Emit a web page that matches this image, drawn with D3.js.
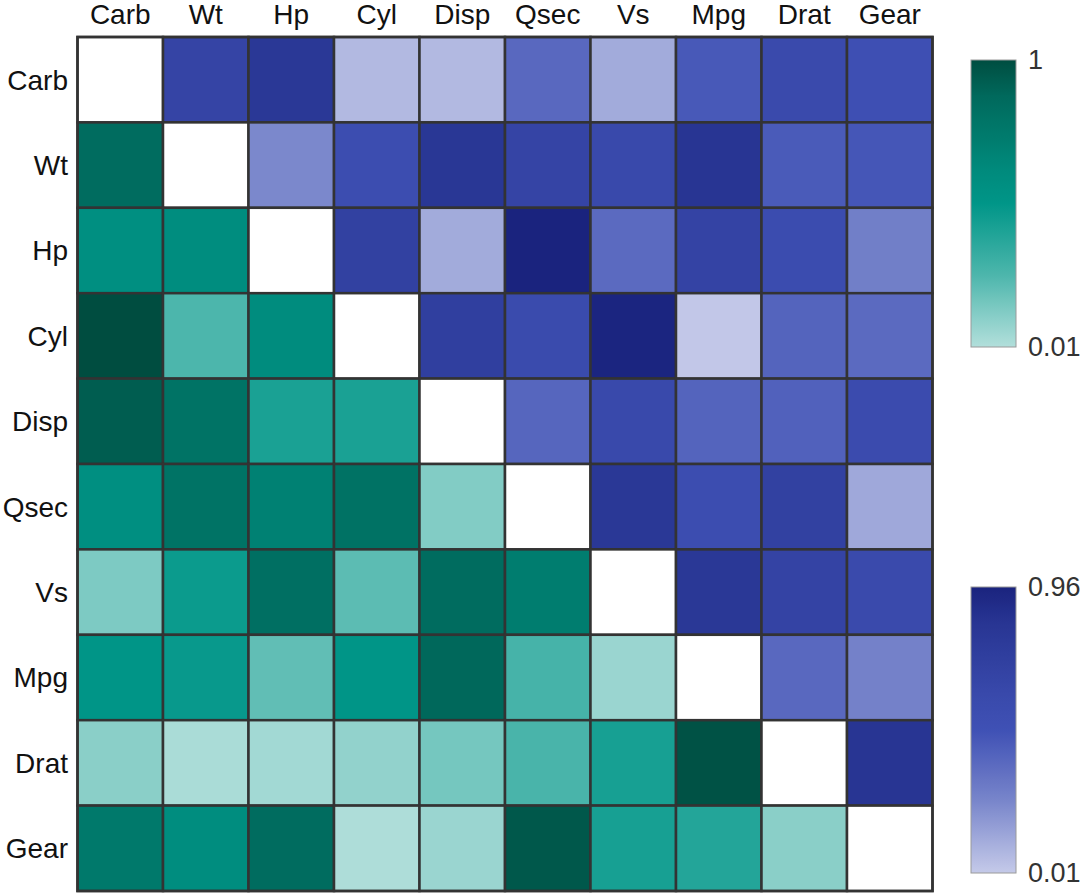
<!DOCTYPE html>
<html>
<head>
<meta charset="utf-8">
<script src="https://cdn.jsdelivr.net/npm/d3@7"></script>
<style>
  html, body { margin: 0; padding: 0; background: #fff; }
  svg { display: block; font-family: "Liberation Sans", Arial, Helvetica, sans-serif; }
</style>
</head>
<body>
<svg id="chart" width="1080" height="894"></svg>
<script>
// ---------------- DATA ----------------
const variables = ["Carb", "Wt", "Hp", "Cyl", "Disp", "Qsec", "Vs", "Mpg", "Drat", "Gear"];

// Upper triangle (blue scale), row i, columns j>i
const upperValues = [
  [0.66, 0.81, 0.07, 0.07, 0.38, 0.12, 0.45, 0.59, 0.51],
  [0.24, 0.54, 0.82, 0.66, 0.60, 0.84, 0.44, 0.46],
  [0.70, 0.12, 0.96, 0.37, 0.67, 0.56, 0.28],
  [0.72, 0.58, 0.95, 0.02, 0.40, 0.37],
  [0.39, 0.60, 0.40, 0.41, 0.57],
  [0.81, 0.54, 0.70, 0.13],
  [0.81, 0.67, 0.59],
  [0.38, 0.27],
  [0.84]
];

// Lower triangle (green scale), row i, columns j<i
const lowerValues = [
  [],
  [0.85],
  [0.57, 0.59],
  [1.00, 0.26, 0.60],
  [0.93, 0.80, 0.42, 0.42],
  [0.57, 0.80, 0.69, 0.81, 0.13],
  [0.14, 0.47, 0.83, 0.22, 0.85, 0.72],
  [0.51, 0.48, 0.21, 0.51, 0.88, 0.28, 0.07],
  [0.11, 0.03, 0.05, 0.09, 0.16, 0.27, 0.43, 0.98],
  [0.75, 0.59, 0.85, 0.02, 0.07, 0.95, 0.43, 0.39, 0.11]
];

const greenRange = [0.01, 1];
const blueRange = [0.01, 0.96];
const greenColors = ["#B2DFDB", "#80CBC4", "#4DB6AC", "#26A69A", "#009688", "#00897B", "#00796B", "#00695C", "#004D40"];
const blueColors  = ["#C5CAE9", "#9FA8DA", "#7986CB", "#5C6BC0", "#3F51B5", "#3949AB", "#303F9F", "#283593", "#1A237E"];
const greenTickLabels = ["1", "0.01"];
const blueTickLabels = ["0.96", "0.01"];

// ---------------- CHART ----------------
const svg = d3.select("#chart");

function stopsFor(range, n) {
  return d3.range(n).map(i => range[0] + (range[1] - range[0]) * i / (n - 1));
}
const greenScale = d3.scaleLinear().domain(stopsFor(greenRange, greenColors.length)).range(greenColors).clamp(true);
const blueScale = d3.scaleLinear().domain(stopsFor(blueRange, blueColors.length)).range(blueColors).clamp(true);

const x = d3.scaleBand().domain(variables).range([77.5, 932.5]);
const y = d3.scaleBand().domain(variables).range([37, 891]);

const cells = [];
variables.forEach((rv, i) => {
  variables.forEach((cv, j) => {
    let v = null, kind = "diag";
    if (j > i) { v = upperValues[i][j - i - 1]; kind = "upper"; }
    else if (j < i) { v = lowerValues[i][j]; kind = "lower"; }
    cells.push({ row: rv, col: cv, v, kind });
  });
});

svg.append("g").selectAll("rect")
  .data(cells)
  .join("rect")
  .attr("x", d => x(d.col))
  .attr("y", d => y(d.row))
  .attr("width", x.bandwidth())
  .attr("height", y.bandwidth())
  .attr("fill", d => d.kind === "diag" ? "#ffffff" : (d.kind === "upper" ? blueScale(d.v) : greenScale(d.v)))
  .attr("stroke", "#333333")
  .attr("stroke-width", 2.5);

// outer border
svg.append("rect")
  .attr("x", x.range()[0]).attr("y", y.range()[0])
  .attr("width", x.range()[1] - x.range()[0])
  .attr("height", y.range()[1] - y.range()[0])
  .attr("fill", "none").attr("stroke", "#333333").attr("stroke-width", 2.5);

// top labels
svg.append("g").selectAll("text")
  .data(variables)
  .join("text")
  .attr("x", d => x(d) + x.bandwidth() / 2)
  .attr("y", 24)
  .attr("text-anchor", "middle")
  .attr("font-size", 28)
  .attr("fill", "#111")
  .text(d => d);

// left labels
svg.append("g").selectAll("text")
  .data(variables)
  .join("text")
  .attr("x", 68)
  .attr("y", d => y(d) + y.bandwidth() / 2)
  .attr("dy", "0.35em")
  .attr("text-anchor", "end")
  .attr("font-size", 28)
  .attr("fill", "#111")
  .text(d => d);

// ---------------- COLORBARS ----------------
const defs = svg.append("defs");
function colorbar(id, scale, range, top, bottom, labels) {
  const grad = defs.append("linearGradient")
    .attr("id", id).attr("x1", 0).attr("y1", 1).attr("x2", 0).attr("y2", 0);
  const n = 40;
  d3.range(n + 1).forEach(i => {
    const v = range[0] + (range[1] - range[0]) * i / n;
    grad.append("stop").attr("offset", (i / n)).attr("stop-color", scale(v));
  });
  const cy = d3.scaleLinear().domain(range).range([bottom, top]);
  const barX = 971, barW = 45;
  svg.append("rect")
    .attr("x", barX).attr("y", cy(range[1]))
    .attr("width", barW).attr("height", cy(range[0]) - cy(range[1]))
    .attr("fill", `url(#${id})`)
    .attr("stroke", "#9a9a9a").attr("stroke-width", 1);
  const tickVals = [range[1], range[0]];
  svg.append("g").selectAll("text")
    .data(tickVals)
    .join("text")
    .attr("x", 1028)
    .attr("y", d => cy(d))
    .attr("dy", "0.35em")
    .attr("font-size", 27)
    .attr("fill", "#333")
    .text((d, i) => labels[i]);
}
colorbar("gGreen", greenScale, greenRange, 60, 347, greenTickLabels);
colorbar("gBlue", blueScale, blueRange, 587, 873, blueTickLabels);
</script>
</body>
</html>
